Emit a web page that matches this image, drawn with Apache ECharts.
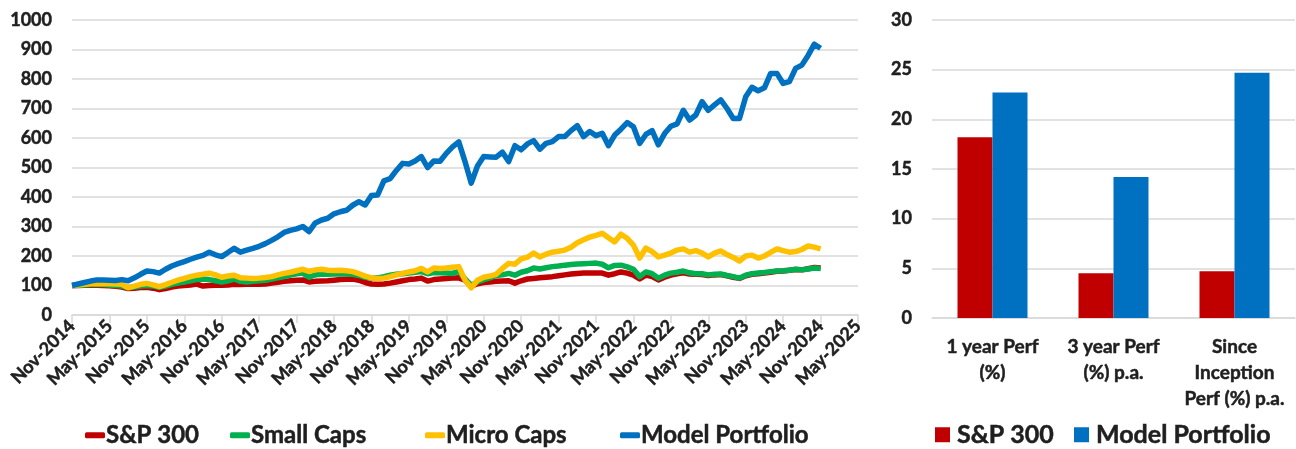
<!DOCTYPE html>
<html>
<head>
<meta charset="utf-8">
<script src="https://cdn.jsdelivr.net/npm/echarts@6/dist/echarts.min.js"></script>
<style>
  html, body { margin: 0; padding: 0; background: #fff; }
  #main { width: 1296px; height: 449px; }
</style>
</head>
<body>
<div id="main"></div>
<script>
// monthly categories, Nov-2014 .. May-2025
const monNames = ['Jan','Feb','Mar','Apr','May','Jun','Jul','Aug','Sep','Oct','Nov','Dec']
const months = []
for (let k = 0; k < 127; k++) {
  let m = (10 + k) % 12
  let y = 2014 + Math.floor((10 + k) / 12)
  months.push(monNames[m] + '-' + y)
}

const sp300 = [100,100,101,101,101,100,99,97,95,90,91,93,94,91,86,90,95,98,100,102,105,98,100,101,101,102,104,103,104,104,
  104,105,108,111,114,116,118,119,112,114,115,116,118,120,121,122,118,110,105,104,105,108,112,116,120,122,125,115,120,122,
  124,125,126,118,98,106,110,112,114,115,116,108,116,122,124,126,128,130,133,136,139,141,142,142,142,142,135,140,146,142,
  135,122,135,130,119,128,135,140,143,139,138,137,134,136,137,133,128,124,133,138,140,142,145,148,149,152,154,153,157,161,159]

const smallCaps = [100,101,102,103,104,103,102,100,98,93,95,98,100,98,94,98,104,108,112,116,120,122,120,116,112,116,122,114,112,114,
  116,118,122,126,130,135,140,142,128,136,138,138,139,140,139,138,134,128,125,126,130,135,138,140,142,145,147,140,144,143,
  142,141,148,122,100,112,120,126,134,136,141,135,145,150,159,156,160,164,166,169,171,173,174,175,176,172,160,168,169,163,
  155,130,146,140,125,135,142,145,149,143,140,140,136,138,139,134,130,125,135,140,142,144,147,149,150,152,155,153,156,159,158]

const microCaps = [100,102,104,106,107,106,106,105,104,92,98,104,107,102,96,103,111,118,124,130,135,138,142,136,128,132,135,126,125,124,
  125,127,130,136,141,145,150,155,148,153,155,152,151,152,150,147,140,132,126,124,125,130,136,141,146,150,158,146,159,158,
  159,162,164,118,92,118,128,132,138,158,175,172,190,196,210,197,206,213,216,220,230,245,255,264,270,277,262,248,274,260,
  237,193,227,215,197,203,210,220,224,213,218,210,197,210,217,205,195,183,200,203,193,200,212,224,218,213,215,222,234,230,224]

const modelPortfolio = [100,105,110,115,119,119,118,117,120,116,126,138,149,147,142,155,166,174,181,189,196,202,213,204,198,212,226,213,220,226,
  233,242,253,265,280,287,292,300,283,312,322,328,343,350,355,372,384,373,405,407,455,462,490,514,512,522,537,500,522,521,
  548,570,587,520,447,505,537,536,535,552,520,574,560,580,591,562,582,588,605,605,625,642,605,622,608,616,574,610,630,652,
  638,582,612,625,577,615,640,648,694,661,678,723,694,712,729,700,666,666,740,772,760,770,819,819,785,791,836,847,880,918,904]

const lineNames = ['S&P 300', 'Small Caps', 'Micro Caps', 'Model Portfolio']

const perfCats = ['1 year Perf\n(%)', '3 year Perf\n(%) p.a.', 'Since\nInception\nPerf (%) p.a.']
const perfSP = [18.2, 4.5, 4.7]
const perfModel = [22.7, 14.2, 24.7]

const RED = '#C00000'
const GREEN = '#00B050'
const YELLOW = '#FFC000'
const BLUE = '#0070C0'
const FONT = 'Lato, "Open Sans", sans-serif'
const TXT = '#1f1f1f'

// a little stroke makes Lato look closer to the heavy bold of the original
function boldText (size, extra) {
  return Object.assign({
    fontFamily: FONT,
    fontWeight: 'bold',
    fontSize: size,
    color: TXT,
    textBorderColor: TXT,
    textBorderWidth: 0.5
  }, extra || {})
}

function lineSeries (name, data, color, z) {
  return {
    name: name,
    type: 'line',
    xAxisIndex: 0,
    yAxisIndex: 0,
    data: data,
    symbol: 'none',
    z: z,
    itemStyle: { color: color },
    lineStyle: { color: color, width: 5.5, join: 'round' }
  }
}

// one legend per item so each sits where it does in the original
const lineLegendLeft = [80, 225, 420, 615]
const barLegendLeft = [930, 1069]

let legends = []
lineNames.forEach((name, i) => {
  legends.push({
    data: [name],
    left: lineLegendLeft[i],
    top: 418,
    icon: 'roundRect',
    itemWidth: 20,
    itemHeight: 6,
    textStyle: Object.assign(boldText(24), { padding: [0, 0, 0, -4] })
  })
})
;['S&P 300', 'Model Portfolio'].forEach((name, i) => {
  legends.push({
    data: [name],
    left: barLegendLeft[i],
    top: 417,
    icon: 'rect',
    itemWidth: 15,
    itemHeight: 15,
    textStyle: boldText(25, { padding: [0, 0, 0, 2] })
  })
})

let myChart = echarts.init(document.getElementById('main'))
let option = {
  animation: false,
  backgroundColor: '#fff',
  textStyle: { fontFamily: FONT },
  grid: [
    { left: 72, top: 20, width: 786, height: 295 },
    { left: 932, top: 20, width: 363, height: 298 }
  ],
  legend: legends,
  xAxis: [
    {
      type: 'category',
      gridIndex: 0,
      data: months,
      boundaryGap: false,
      axisLine: { lineStyle: { color: '#d9d9d9', width: 1.5 } },
      axisTick: { show: true, interval: 5, length: 8, lineStyle: { color: '#d9d9d9', width: 1.5 } },
      axisLabel: boldText(18, { interval: 5, rotate: 45, margin: 8 }),
      splitLine: { show: false }
    },
    {
      type: 'category',
      gridIndex: 1,
      data: perfCats,
      axisLine: { lineStyle: { color: '#d9d9d9', width: 1.5 } },
      axisTick: { show: false },
      axisLabel: boldText(19, { margin: 16, lineHeight: 26, interval: 0 })
    }
  ],
  yAxis: [
    {
      type: 'value',
      gridIndex: 0,
      min: 0,
      max: 1000,
      interval: 100,
      axisLine: { show: false },
      axisTick: { show: false },
      axisLabel: boldText(18, { margin: 20, formatter: v => String(v) }),
      splitLine: { lineStyle: { color: '#d9d9d9', width: 1.5 } }
    },
    {
      type: 'value',
      gridIndex: 1,
      min: 0,
      max: 30,
      interval: 5,
      axisLine: { show: false },
      axisTick: { show: false },
      axisLabel: boldText(18, { margin: 20 }),
      splitLine: { lineStyle: { color: '#d9d9d9', width: 1.5 } }
    }
  ],
  series: [
    lineSeries('S&P 300', sp300, RED, 2),
    lineSeries('Small Caps', smallCaps, GREEN, 3),
    lineSeries('Micro Caps', microCaps, YELLOW, 4),
    lineSeries('Model Portfolio', modelPortfolio, BLUE, 5),
    {
      name: 'S&P 300',
      type: 'bar',
      xAxisIndex: 1,
      yAxisIndex: 1,
      data: perfSP,
      barWidth: 35,
      barGap: '0%',
      itemStyle: { color: RED }
    },
    {
      name: 'Model Portfolio',
      type: 'bar',
      xAxisIndex: 1,
      yAxisIndex: 1,
      data: perfModel,
      barWidth: 35,
      barGap: '0%',
      itemStyle: { color: BLUE }
    }
  ]
}
myChart.setOption(option)
</script>
</body>
</html>
